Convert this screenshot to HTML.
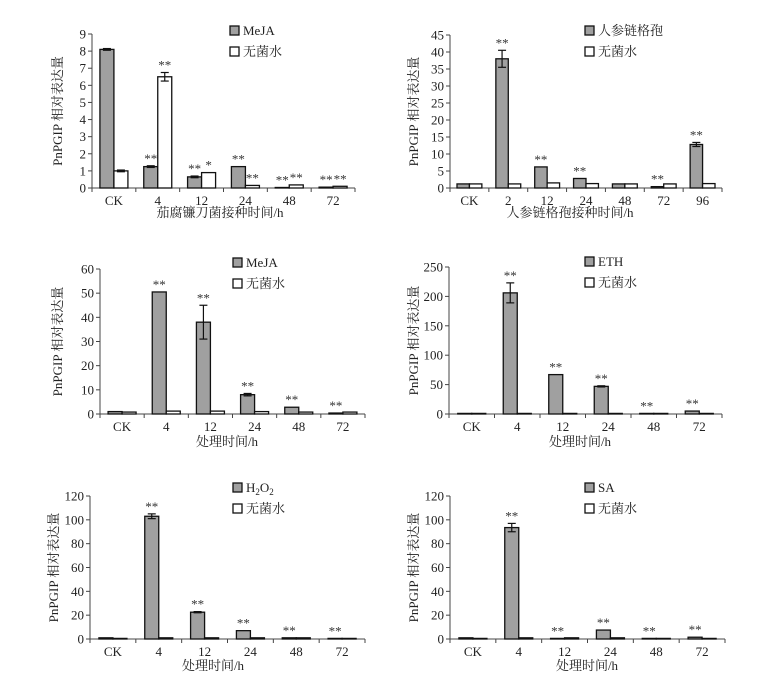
<!DOCTYPE html>
<html><head><meta charset="utf-8"><style>
body{margin:0;background:#fff}
svg{display:block;font-family:"Liberation Serif","Noto Serif CJK SC",serif}
</style></head><body>
<svg id="s" width="771" height="683" viewBox="0 0 771 683"></svg>
<script>
// panel data arrays
const cats1=["CK","4","12","24","48","72"];
const gray1=[8.1,1.25,0.65,1.25,0.03,0.05];
const white1=[1.0,6.5,0.9,0.15,0.18,0.1];
const gErr1=[0.05,0.05,0.05,0,0,0];
const wErr1=[0.05,0.25,0,0,0,0];
const gStar1=["","**","**","**","**","**"];
const wStar1=["","**","*","**","**","**"];
const ticks1=[0,1,2,3,4,5,6,7,8,9];

const cats2=["CK","2","12","24","48","72","96"];
const gray2=[1.2,38,6.2,2.8,1.2,0.4,12.8];
const white2=[1.2,1.2,1.5,1.3,1.2,1.2,1.3];
const gErr2=[0,2.5,0,0,0,0,0.6];
const wErr2=[0,0,0,0,0,0,0];
const gStar2=["","**","**","**","","**","**"];
const wStar2=["","","","","","",""];
const ticks2=[0,5,10,15,20,25,30,35,40,45];

const cats3=["CK","4","12","24","48","72"];
const gray3=[1,50.5,38,8,2.8,0.4];
const white3=[0.8,1.2,1.2,1,0.8,0.8];
const gErr3=[0,0,7,0.5,0,0];
const wErr3=[0,0,0,0,0,0];
const gStar3=["","**","**","**","**","**"];
const ticks3=[0,10,20,30,40,50,60];

const cats4=["CK","4","12","24","48","72"];
const gray4=[1,206,67,47,1,5];
const white4=[1,1,1,1,1,1];
const gErr4=[0,17,0,1,0,0];
const gStar4=["","**","**","**","**","**"];
const ticks4=[0,50,100,150,200,250];

const cats5=["CK","4","12","24","48","72"];
const gray5=[1,103,22.5,7,1,0.5];
const white5=[0.5,1,1,1,1,0.5];
const gErr5=[0,2,0.5,0,0,0];
const gStar5=["","**","**","**","**","**"];
const ticks5=[0,20,40,60,80,100,120];

const cats6=["CK","4","12","24","48","72"];
const gray6=[1,93.5,0.5,7.5,0.5,1.5];
const white6=[0.5,1,1,1,0.5,0.5];
const gErr6=[0,3.5,0,0,0,0];
const gStar6=["","**","**","**","**","**"];
const ticks6=[0,20,40,60,80,100,120];

const NS="http://www.w3.org/2000/svg";
const svg=document.getElementById("s");
function mk(tag,attrs,parent,txt){const e=document.createElementNS(NS,tag);for(const k in attrs)e.setAttribute(k,attrs[k]);if(txt!==undefined)e.textContent=txt;(parent||svg).appendChild(e);return e;}

function panel(id,cfg){
  const g=mk("g",{});
  
  
  const {x0,xEnd,y0,yTop,ticks,cats,gray,white,gErr,wErr,gStar,wStar,leg,legX,legY,xTitle,xTitleX,xTitleY,yTitleX}=cfg;
  const max=ticks[ticks.length-1];
  const ys=v=>y0-(v/max)*(y0-yTop);
  const band=(xEnd-x0)/cats.length;
  const bw=Math.min(14,band*0.32);
  // axes
  const ya=mk("line",{x1:x0,y1:yTop,x2:x0,y2:y0,stroke:"#444","stroke-width":1},g);
  
  const xa=mk("line",{x1:x0,y1:y0,x2:xEnd,y2:y0,stroke:"#444","stroke-width":1},g);
  
  ticks.forEach(t=>{
    const y=ys(t);
    mk("line",{x1:x0-4,y1:y,x2:x0,y2:y,stroke:"#444"},g);
    const tl=mk("text",{x:x0-6,y:y+4.5,"font-size":13,"text-anchor":"end",fill:"#222"},g,t);
    
  });
  for(let i=0;i<=cats.length;i++){const x=x0+i*band;mk("line",{x1:x,y1:y0,x2:x,y2:y0+4,stroke:"#444"},g);}
  cats.forEach((c,i)=>{
    const cx=x0+band*(i+0.5);
    const tl=mk("text",{x:cx,y:y0+17,"font-size":13,"text-anchor":"middle",fill:"#222"},g,c);
    
    const gh=gray[i], wh=white[i];
    const b1=mk("rect",{x:cx-bw,y:ys(gh),width:bw,height:y0-ys(gh),fill:"#a0a0a0",stroke:"#111","stroke-width":1.3},g);
    
    const b2=mk("rect",{x:cx,y:ys(wh),width:bw,height:y0-ys(wh),fill:"#fff",stroke:"#111","stroke-width":1.3},g);
    
    const eb=(xc,v,e)=>{if(!e)return;const a=ys(v+e),b=ys(v-e);
      mk("line",{x1:xc,y1:a,x2:xc,y2:b,stroke:"#111","stroke-width":1.2},g);
      mk("line",{x1:xc-4,y1:a,x2:xc+4,y2:a,stroke:"#111","stroke-width":1.2},g);
      mk("line",{x1:xc-4,y1:b,x2:xc+4,y2:b,stroke:"#111","stroke-width":1.2},g);};
    eb(cx-bw/2,gh,gErr[i]); if(wErr) eb(cx+bw/2,wh,wErr[i]);
    if(gStar[i]){const top=ys(gh+(gErr[i]||0));const s=mk("text",{x:cx-bw/2,y:top-3,"font-size":13,"text-anchor":"middle",fill:"#333"},g,gStar[i]);}
    if(wStar&&wStar[i]){const top=ys(wh+(wErr?wErr[i]:0));const s=mk("text",{x:cx+bw/2,y:top-3,"font-size":13,"text-anchor":"middle",fill:"#333"},g,wStar[i]);}
  });
  // legend
  const l1=mk("rect",{x:legX,y:legY-9,width:9,height:9,fill:"#a0a0a0",stroke:"#111","stroke-width":1.3},g);
  
  const lt=mk("text",{x:legX+13,y:legY,"font-size":13,fill:"#222"},g);
  
  if(leg==="H2O2"){lt.textContent="H";mk("tspan",{"font-size":9,dy:3},lt,"2");mk("tspan",{dy:-3},lt,"O");mk("tspan",{"font-size":9,dy:3},lt,"2");}
  else lt.textContent=leg;
  const l2=mk("rect",{x:legX,y:legY+12,width:9,height:9,fill:"#fff",stroke:"#111","stroke-width":1.3},g);
  
  const lt2=mk("text",{x:legX+13,y:legY+21,"font-size":13,fill:"#222"},g,"无菌水");
  
  const xt=mk("text",{x:xTitleX,y:xTitleY,"font-size":13,"text-anchor":"middle",fill:"#222"},g,xTitle);
  
  const yc=(y0+yTop)/2;
  const yt=mk("text",{x:yTitleX,y:yc,"font-size":13,"text-anchor":"middle",fill:"#222",transform:`rotate(-90 ${yTitleX} ${yc})`},g,"PnPGIP 相对表达量");
  
}
panel("chart-fusarium",{x0:92,xEnd:355,y0:188,yTop:34,ticks:ticks1,cats:cats1,gray:gray1,white:white1,gErr:gErr1,wErr:wErr1,gStar:gStar1,wStar:wStar1,leg:"MeJA",legX:230,legY:35,xTitle:"茄腐镰刀菌接种时间/h",xTitleX:220,xTitleY:217,yTitleX:62});
panel("chart-alternaria",{x0:450,xEnd:722,y0:188,yTop:35,ticks:ticks2,cats:cats2,gray:gray2,white:white2,gErr:gErr2,wErr:null,gStar:gStar2,wStar:wStar2,leg:"人参链格孢",legX:585,legY:35,xTitle:"人参链格孢接种时间/h",xTitleX:570,xTitleY:217,yTitleX:418});
panel("chart-meja",{x0:100,xEnd:365,y0:414,yTop:269,ticks:ticks3,cats:cats3,gray:gray3,white:white3,gErr:gErr3,wErr:null,gStar:gStar3,wStar:null,leg:"MeJA",legX:233,legY:267,xTitle:"处理时间/h",xTitleX:227,xTitleY:446,yTitleX:62});
panel("chart-eth",{x0:449,xEnd:722,y0:414,yTop:267,ticks:ticks4,cats:cats4,gray:gray4,white:white4,gErr:gErr4,wErr:null,gStar:gStar4,wStar:null,leg:"ETH",legX:585,legY:266,xTitle:"处理时间/h",xTitleX:580,xTitleY:446,yTitleX:418});
panel("chart-h2o2",{x0:90,xEnd:365,y0:639,yTop:496,ticks:ticks5,cats:cats5,gray:gray5,white:white5,gErr:gErr5,wErr:null,gStar:gStar5,wStar:null,leg:"H2O2",legX:233,legY:492,xTitle:"处理时间/h",xTitleX:213,xTitleY:670,yTitleX:58});
panel("chart-sa",{x0:450,xEnd:725,y0:639,yTop:496,ticks:ticks6,cats:cats6,gray:gray6,white:white6,gErr:gErr6,wErr:null,gStar:gStar6,wStar:null,leg:"SA",legX:585,legY:492,xTitle:"处理时间/h",xTitleX:587,xTitleY:670,yTitleX:418});
</script>
</body></html>
